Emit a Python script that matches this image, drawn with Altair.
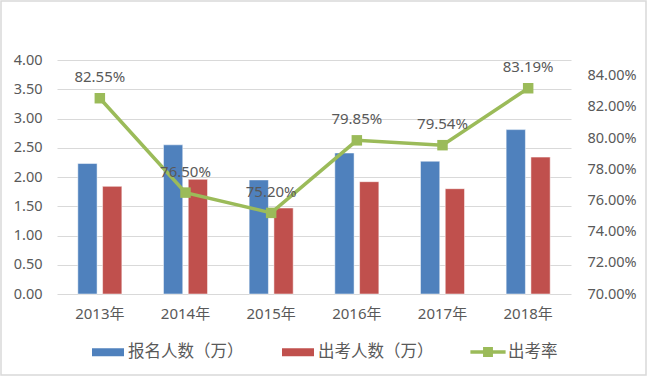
import altair as alt
import pandas as pd

years = ["2013年", "2014年", "2015年", "2016年", "2017年", "2018年"]
applicants = [2.23, 2.55, 1.95, 2.41, 2.27, 2.81]
takers = [1.84, 1.96, 1.47, 1.92, 1.80, 2.34]
rate = [0.8255, 0.7650, 0.7520, 0.7985, 0.7954, 0.8319]
series = ["报名人数（万）", "出考人数（万）", "出考率"]
colors = ["#4f81bd", "#c0504d", "#9bbb59"]

FONT = "Noto Sans, Noto Sans CJK SC"
GREY = "#595959"

bar_rows = []
for y, a, t in zip(years, applicants, takers):
    bar_rows.append({"year": y, "series": series[0], "value": a})
    bar_rows.append({"year": y, "series": series[1], "value": t})
bars_df = pd.DataFrame(bar_rows)
rate_df = pd.DataFrame({"year": years, "series": series[2], "rate": rate})

W, H = 514, 234

legend_common = dict(
    title=None,
    orient="none",
    direction="horizontal",
    symbolSize=1024,
    labelFont=FONT,
    labelFontSize=16.5,
    labelColor=GREY,
)

fill_enc = alt.Fill(
    "series:N",
    scale=alt.Scale(domain=series[:2], range=colors[:2]),
    legend=alt.Legend(
        legendX=35,
        legendY=276,
        columns=2,
        symbolStrokeWidth=0,
        symbolOpacity=1,
        labelOffset=4,
        columnPadding=38,
        symbolType="M-1,-0.25H1V0.25H-1Z",
        **legend_common,
    ),
)

stroke_enc = alt.Stroke(
    "series:N",
    scale=alt.Scale(domain=series[2:], range=colors[2:]),
    legend=alt.Legend(
        legendX=413,
        legendY=274,
        symbolStrokeWidth=3.5,
        symbolOpacity=1,
        labelOffset=2,
        symbolType="M-1.1,0H1.1M-0.2,-0.2H0.2V0.2H-0.2ZM-0.08,-0.08H0.08V0.08H-0.08Z",
        **legend_common,
    ),
)

xenc = alt.X(
    "year:N",
    sort=years,
    scale=alt.Scale(paddingInner=0.486, paddingOuter=0.243),
    axis=alt.Axis(
        title=None,
        labelAngle=0,
        ticks=False,
        domain=False,
        grid=False,
        labelFont=FONT,
        labelFontSize=15,
        labelColor=GREY,
        labelPadding=12,
    ),
)

bars = alt.Chart(bars_df).mark_bar(stroke="white", strokeWidth=0.5).encode(
    x=xenc,
    xOffset=alt.XOffset("series:N", sort=series[:2],
                        scale=alt.Scale(paddingInner=0.222, paddingOuter=0)),
    y=alt.Y(
        "value:Q",
        scale=alt.Scale(domain=[0, 4]),
        axis=alt.Axis(
            title=None,
            values=[0, 0.5, 1, 1.5, 2, 2.5, 3, 3.5, 4],
            format=".2f",
            ticks=False,
            domain=False,
            gridColor="#d9d9d9",
            labelFont=FONT,
            labelFontSize=14.5,
            labelColor=GREY,
            labelPadding=15,
        ),
    ),
    fill=fill_enc,
)

yr = alt.Y(
    "rate:Q",
    scale=alt.Scale(domain=[0.70, 0.85]),
    axis=alt.Axis(
        title=None,
        orient="right",
        values=[0.70, 0.72, 0.74, 0.76, 0.78, 0.80, 0.82, 0.84],
        format=".2%",
        ticks=False,
        domain=False,
        grid=False,
        labelFont=FONT,
        labelFontSize=14.5,
        labelColor=GREY,
        labelPadding=16,
    ),
)

base = alt.Chart(rate_df).encode(x=alt.X("year:N", sort=years), y=yr)
line = base.mark_line(strokeWidth=3.5).encode(stroke=stroke_enc)
pts = base.mark_point(shape="square", filled=True, size=110, opacity=1, color="#9bbb59")
labels = base.mark_text(dy=-21, font=FONT, fontSize=15, color=GREY).encode(
    text=alt.Text("rate:Q", format=".2%")
)

frame = alt.Chart(alt.Data(values=[{"a": 1}])).mark_rect(
    fill="transparent", stroke="#d9d9d9", strokeWidth=1.5
).encode(
    x=alt.value(-56), x2=alt.value(W + 75), y=alt.value(-59), y2=alt.value(H + 81)
)

chart = (
    alt.layer(bars, alt.layer(line, pts, labels), frame)
    .resolve_scale(y="independent")
    .properties(
        width=W,
        height=H,
        autosize=alt.AutoSizeParams(type="none"),
        padding={"left": 57, "top": 60, "right": 79, "bottom": 83},
        background="white",
    )
    .configure_view(stroke=None)
)

chart.save("out.html", embed_options={"renderer": "svg", "actions": False})
